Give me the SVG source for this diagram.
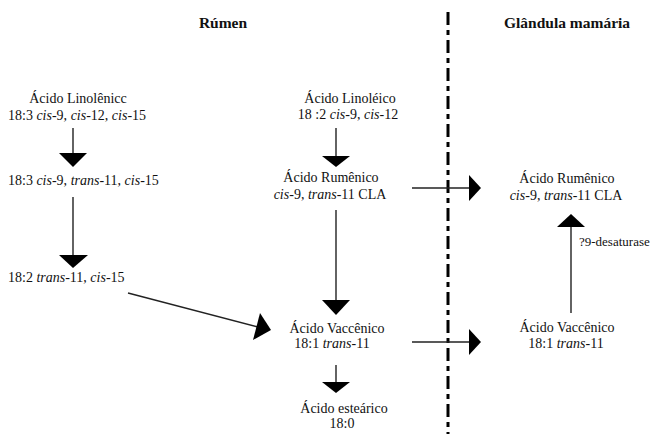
<svg xmlns="http://www.w3.org/2000/svg" width="655" height="434" viewBox="0 0 655 434">
<rect width="655" height="434" fill="#fff"/>
<g id="titles" font-family="Liberation Serif" font-size="15.5" font-weight="bold" text-anchor="middle" fill="#111">
<text x="223" y="28">Rúmen</text>
<text x="567" y="28">Glândula mamária</text>
</g>
<line id="divider" x1="448" y1="12" x2="448" y2="434" stroke="#000" stroke-width="3" stroke-dasharray="13 5 5 5"/>
<g id="n-linolenico" font-family="Liberation Serif" font-size="14" fill="#111">
<text x="78" y="103" text-anchor="middle">Ácido Linolênicc</text>
<text x="8" y="120">18:3 <tspan font-style="italic">cis</tspan>-9, <tspan font-style="italic">cis</tspan>-12, <tspan font-style="italic">cis</tspan>-15</text>
</g>
<g id="n-183" font-family="Liberation Serif" font-size="14" fill="#111">
<text x="8" y="185">18:3 <tspan font-style="italic">cis</tspan>-9, <tspan font-style="italic">trans</tspan>-11, <tspan font-style="italic">cis</tspan>-15</text>
</g>
<g id="n-182" font-family="Liberation Serif" font-size="14" fill="#111">
<text x="8" y="282">18:2 <tspan font-style="italic">trans</tspan>-11, <tspan font-style="italic">cis</tspan>-15</text>
</g>
<g id="n-linoleico" font-family="Liberation Serif" font-size="14" fill="#111" text-anchor="middle">
<text x="350" y="103">Ácido Linoléico</text>
<text x="348" y="119">18 :2 <tspan font-style="italic">cis</tspan>-9, <tspan font-style="italic">cis</tspan>-12</text>
</g>
<g id="n-rumenico1" font-family="Liberation Serif" font-size="14" fill="#111" text-anchor="middle">
<text x="331" y="182">Ácido Rumênico</text>
<text x="330" y="199"><tspan font-style="italic">cis</tspan>-9, <tspan font-style="italic">trans</tspan>-11 CLA</text>
</g>
<g id="n-vaccenico1" font-family="Liberation Serif" font-size="14" fill="#111" text-anchor="middle">
<text x="337" y="333">Ácido Vaccênico</text>
<text x="332" y="348">18:1 <tspan font-style="italic">trans</tspan>-11</text>
</g>
<g id="n-estearico" font-family="Liberation Serif" font-size="14" fill="#111" text-anchor="middle">
<text x="344" y="413">Ácido esteárico</text>
<text x="342" y="428">18:0</text>
</g>
<g id="n-rumenico2" font-family="Liberation Serif" font-size="14" fill="#111" text-anchor="middle">
<text x="567" y="183">Ácido Rumênico</text>
<text x="566" y="200"><tspan font-style="italic">cis</tspan>-9, <tspan font-style="italic">trans</tspan>-11 CLA</text>
</g>
<g id="n-vaccenico2" font-family="Liberation Serif" font-size="14" fill="#111" text-anchor="middle">
<text x="567" y="332">Ácido Vaccênico</text>
<text x="566" y="348">18:1 <tspan font-style="italic">trans</tspan>-11</text>
</g>
<g id="connectors" stroke="#222" stroke-width="1.4">
<line x1="73" y1="128" x2="73" y2="155"/>
<polygon fill="#000" stroke="none" points="59,153 87,153 73,167"/>
<line x1="73" y1="197" x2="73" y2="256"/>
<polygon fill="#000" stroke="none" points="59,255 88,255 73,268"/>
<line x1="128" y1="293" x2="258" y2="327"/>
<polygon fill="#000" stroke="none" points="253,340 260,313 271,330"/>
<line x1="336" y1="128" x2="336" y2="157"/>
<polygon fill="#000" stroke="none" points="322,156 350,156 336,167"/>
<line x1="336" y1="210" x2="336" y2="301"/>
<polygon fill="#000" stroke="none" points="322,300 350,300 336,315"/>
<line x1="336" y1="365" x2="336" y2="383"/>
<polygon fill="#000" stroke="none" points="322,382 350,382 336,393"/>
<line x1="412" y1="188" x2="470" y2="188"/>
<polygon fill="#000" stroke="none" points="469,175 469,201 481,188"/>
<line x1="412" y1="342" x2="470" y2="342"/>
<polygon fill="#000" stroke="none" points="469,329 469,355 481,342"/>
<line x1="571" y1="226" x2="571" y2="313"/>
<polygon fill="#000" stroke="none" points="557,227 585,227 571,214"/>
<text x="579" y="246" stroke="none" font-family="Liberation Serif" font-size="13" fill="#111">?9-desaturase</text>
</g>
</svg>
